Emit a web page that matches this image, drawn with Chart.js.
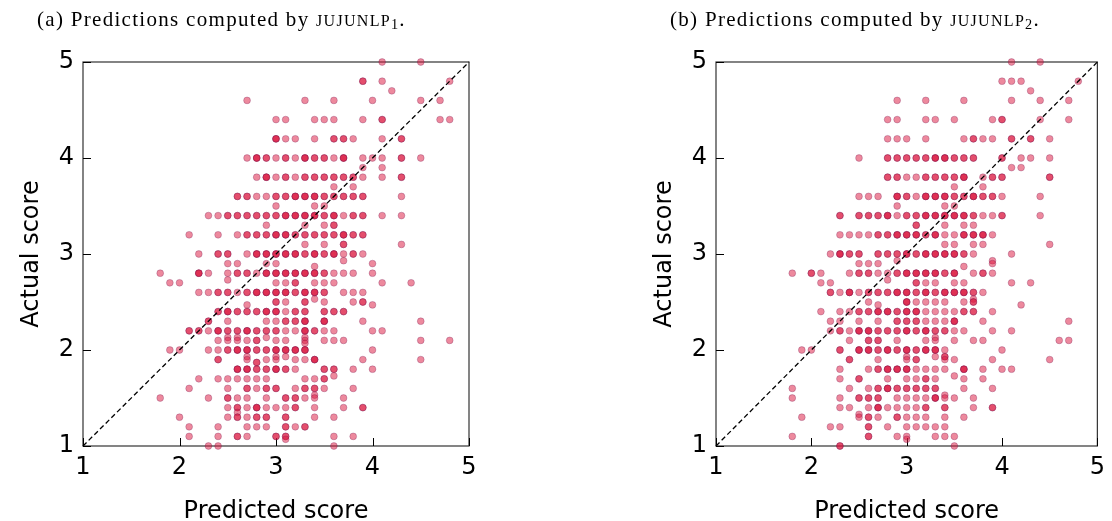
<!DOCTYPE html>
<html><head><meta charset="utf-8">
<script src="https://cdn.jsdelivr.net/npm/chart.js@4.4.1/dist/chart.umd.min.js"></script>
<style>
html,body{margin:0;padding:0;background:#fff;}
body{width:1112px;height:521px;position:relative;overflow:hidden;}
.panel{position:absolute;top:0;width:556px;height:521px;}
.title{position:absolute;top:6px;font-family:"Liberation Serif","DejaVu Serif",serif;font-size:21px;letter-spacing:1.3px;color:#000;white-space:nowrap;z-index:2;}
.sc{font-variant:small-caps;font-size:1.08em;}
sub{font-size:0.68em;vertical-align:-0.22em;line-height:0;}
</style></head>
<body>
<div class="title" style="left:37px">(a) Predictions computed by <span class="sc">jujunlp</span><sub>1</sub>.</div>
<div class="title" style="left:670px">(b) Predictions computed by <span class="sc">jujunlp</span><sub>2</sub>.</div>
<div class="panel" style="left:0"><canvas id="cA" width="556" height="521"></canvas></div>
<div class="panel" style="left:556px"><canvas id="cB" width="556" height="521"></canvas></div>
<script>
// axis ticks
const tickValues = [1, 2, 3, 4, 5];
const diagonal = [{x: 1, y: 1}, {x: 5, y: 5}];

// ---- (a) JUJUNLP1: actual score levels and predicted scores at each level (repeats = overlapping points)
const actualLevelsA = [5.0,4.8,4.7,4.6,4.4,4.2,4.0,3.9,3.8,3.7,3.6,3.5,3.4,3.3,3.2,3.1,3.0,2.93,2.9,2.87,2.8,2.73,2.7,2.6,2.53,2.5,2.47,2.4,2.3,2.2,2.13,2.1,2.07,2.0,1.93,1.9,1.87,1.8,1.73,1.7,1.6,1.53,1.5,1.4,1.35,1.3,1.2,1.1,1.07,1.0];
const predictedA = [
/*5.0*/[4.1,4.5],
/*4.8*/[3.9,3.9,4.1,4.8],
/*4.7*/[4.2],
/*4.6*/[2.7,3.3,3.6,4.0,4.5,4.7],
/*4.4*/[3.0,3.1,3.4,3.5,3.6,3.9,4.1,4.1,4.7,4.8],
/*4.2*/[3.0,3.0,3.0,3.1,3.2,3.4,3.6,3.6,3.7,3.7,3.8,4.1,4.3,4.3],
/*4.0*/[2.7,2.8,2.8,2.8,2.9,2.9,3.0,3.1,3.1,3.2,3.3,3.3,3.3,3.4,3.4,3.5,3.5,3.6,3.7,3.7,3.7,3.9,4.0,4.1,4.3,4.3,4.5],
/*3.9*/[3.9,4.1],
/*3.8*/[2.8,2.9,2.9,2.9,3.0,3.1,3.1,3.2,3.3,3.3,3.4,3.4,3.5,3.5,3.6,3.6,3.7,3.7,3.8,3.8,3.9,4.1,4.3,4.3],
/*3.7*/[3.6,3.8],
/*3.6*/[2.6,2.6,2.7,2.7,2.8,2.9,3.0,3.0,3.1,3.1,3.2,3.2,3.2,3.3,3.3,3.3,3.4,3.4,3.4,3.5,3.5,3.6,3.6,3.7,3.7,3.8,3.8,3.9,3.9,4.3],
/*3.5*/[3.0,3.4,3.5],
/*3.4*/[2.3,2.4,2.5,2.5,2.6,2.6,2.7,2.7,2.8,2.8,2.9,2.9,3.0,3.0,3.1,3.1,3.1,3.2,3.2,3.2,3.3,3.3,3.3,3.4,3.4,3.4,3.5,3.5,3.6,3.6,3.6,3.7,3.8,3.8,3.9,3.9,4.1,4.3],
/*3.3*/[2.9,3.3,3.5,3.6,3.6],
/*3.2*/[2.1,2.4,2.6,2.7,2.7,2.8,2.8,2.9,2.9,3.0,3.0,3.0,3.1,3.1,3.1,3.2,3.2,3.3,3.3,3.4,3.4,3.5,3.5,3.6,3.6,3.7,3.7,3.7,3.8,3.8,3.9,3.9],
/*3.1*/[3.3,3.5,3.7,3.7,4.3],
/*3.0*/[2.2,2.4,2.4,2.5,2.5,2.7,2.8,2.8,2.8,2.9,2.9,2.9,3.0,3.0,3.0,3.1,3.1,3.1,3.2,3.2,3.2,3.3,3.3,3.4,3.4,3.4,3.5,3.5,3.6,3.6,3.6,3.7,3.8,3.8,3.9],
/*2.93*/[3.7],
/*2.9*/[2.5,2.6,2.9,3.0,4.0],
/*2.87*/[3.4],
/*2.8*/[1.8,2.2,2.2,2.2,2.3,2.5,2.6,2.6,2.7,2.7,2.8,2.9,2.9,2.9,3.0,3.0,3.0,3.1,3.1,3.1,3.2,3.2,3.2,3.3,3.3,3.3,3.4,3.4,3.4,3.5,3.5,3.6,3.7,3.8,4.0],
/*2.73*/[2.5],
/*2.7*/[1.9,2.0,3.0,3.1,3.2,3.2,3.4,3.5,3.6,4.1,4.4],
/*2.6*/[2.2,2.3,2.4,2.4,2.5,2.5,2.6,2.7,2.7,2.8,2.8,2.8,2.9,2.9,2.9,3.0,3.0,3.0,3.1,3.1,3.1,3.2,3.2,3.3,3.3,3.3,3.4,3.4,3.4,3.5,3.5,3.7,3.8,3.9],
/*2.53*/[3.4],
/*2.5*/[3.0,3.0,3.1,3.3,3.3,3.5,3.8,3.9,3.9],
/*2.47*/[2.7,4.0],
/*2.4*/[2.4,2.4,2.5,2.5,2.5,2.6,2.6,2.7,2.7,2.8,2.8,2.9,2.9,2.9,3.0,3.0,3.0,3.1,3.2,3.2,3.3,3.3,3.5,3.5,3.6,3.6,3.7,3.7],
/*2.3*/[2.3,2.3,2.5,2.9,3.0,3.1,3.1,3.2,3.2,3.3,3.3,3.3,3.5,3.5,3.5,3.9,4.5],
/*2.2*/[2.1,2.1,2.2,2.2,2.3,2.4,2.4,2.4,2.5,2.5,2.6,2.6,2.7,2.7,2.7,2.8,2.8,2.9,2.9,3.0,3.0,3.1,3.2,3.3,3.3,3.3,3.4,3.4,3.5,3.6,4.0,4.1],
/*2.13*/[2.5,2.6,2.9,3.3],
/*2.1*/[2.4,2.5,2.6,2.7,2.8,2.8,3.0,3.1,3.3,3.5,3.6,3.7,4.5,4.8],
/*2.07*/[3.3],
/*2.0*/[1.9,2.0,2.3,2.4,2.5,2.5,2.6,2.6,2.6,2.7,2.7,2.7,2.8,2.8,2.9,2.9,3.0,3.0,3.0,3.1,3.1,3.1,3.2,3.2,3.2,3.3,3.3,3.3,4.0],
/*1.93*/[2.7,3.0,3.1],
/*1.9*/[2.4,2.4,2.7,2.9,3.0,3.2,3.3,3.4,3.4,3.4,3.9,4.5],
/*1.87*/[2.8,2.8],
/*1.8*/[2.6,2.6,2.6,2.7,2.7,2.7,2.8,2.8,2.9,2.9,3.0,3.0,3.0,3.1,3.1,3.2,3.5,3.5,3.6,3.6,3.8,4.0],
/*1.73*/[3.6],
/*1.7*/[2.2,2.4,2.5,2.6,2.7,2.8,2.9,3.3,3.4,3.5,3.5],
/*1.6*/[2.1,2.5,2.7,2.7,2.8,2.9,2.9,3.0,3.0,3.2,3.3,3.3,3.4,3.4,3.5,3.8],
/*1.53*/[3.4],
/*1.5*/[1.8,2.3,2.5,2.5,2.6,2.7,2.9,3.1,3.1,3.2,3.2,3.3,3.4,3.7],
/*1.4*/[2.5,2.6,2.6,2.7,2.8,2.8,2.8,2.9,3.0,3.1,3.2,3.2,3.4,3.7,3.9,3.9],
/*1.35*/[2.6],
/*1.3*/[2.0,2.5,2.6,2.6,2.7,2.8,2.8,2.9,2.9,3.1,3.1,3.4,3.6],
/*1.2*/[2.1,2.4,2.7,2.8,2.9,3.1,3.1,3.2,3.3,3.3],
/*1.1*/[2.1,2.4,2.6,2.6,2.7,3.0,3.0,3.1,3.1,3.6,3.8],
/*1.07*/[3.1],
/*1.0*/[2.3,2.4,3.6]
];

// ---- (b) JUJUNLP2
const actualLevelsB = [5.0,4.8,4.7,4.6,4.4,4.2,4.0,3.9,3.8,3.7,3.6,3.5,3.4,3.3,3.2,3.1,3.0,2.93,2.9,2.87,2.8,2.73,2.7,2.6,2.53,2.5,2.47,2.4,2.3,2.2,2.13,2.1,2.0,1.93,1.9,1.8,1.73,1.7,1.6,1.53,1.5,1.4,1.33,1.3,1.2,1.1,1.07,1.0];
const predictedB = [
/*5.0*/[4.1,4.4],
/*4.8*/[4.0,4.1,4.2,4.8],
/*4.7*/[4.3],
/*4.6*/[2.9,3.2,3.6,4.1,4.4,4.7],
/*4.4*/[2.8,2.9,3.2,3.3,3.5,3.9,4.0,4.0,4.4,4.7],
/*4.2*/[2.8,2.9,3.0,3.2,3.6,3.7,3.7,3.8,3.9,4.1,4.1,4.3,4.3,4.5],
/*4.0*/[2.5,2.8,2.8,2.9,2.9,3.0,3.0,3.1,3.1,3.2,3.2,3.3,3.3,3.3,3.4,3.4,3.4,3.5,3.5,3.6,3.6,3.7,3.7,4.0,4.0,4.2,4.3,4.5],
/*3.9*/[4.1,4.2],
/*3.8*/[2.8,2.8,2.9,2.9,3.0,3.1,3.2,3.2,3.3,3.3,3.4,3.4,3.5,3.5,3.6,3.6,3.6,3.8,3.9,3.9,4.0,4.0,4.5,4.5],
/*3.7*/[3.5,3.8],
/*3.6*/[2.5,2.6,2.7,2.9,2.9,2.9,3.0,3.0,3.1,3.2,3.2,3.2,3.3,3.3,3.3,3.4,3.4,3.4,3.5,3.5,3.6,3.6,3.7,3.7,3.7,3.8,3.8,3.9,3.9,4.0,4.4],
/*3.5*/[2.9,3.4,3.5],
/*3.4*/[2.3,2.3,2.5,2.5,2.6,2.6,2.7,2.7,2.8,2.8,2.8,2.9,3.0,3.0,3.1,3.1,3.2,3.2,3.2,3.3,3.3,3.3,3.4,3.4,3.4,3.5,3.5,3.5,3.6,3.6,3.6,3.7,3.7,3.8,3.9,4.0,4.0,4.4],
/*3.3*/[3.1,3.1,3.4,3.6,3.7],
/*3.2*/[2.3,2.4,2.5,2.6,2.7,2.7,2.8,2.8,2.9,2.9,2.9,3.0,3.0,3.0,3.1,3.1,3.1,3.2,3.2,3.3,3.3,3.3,3.4,3.5,3.6,3.6,3.6,3.7,3.7,3.7,3.8,3.8,3.8,3.9],
/*3.1*/[3.4,3.5,3.7,3.8,4.5],
/*3.0*/[2.2,2.3,2.3,2.3,2.4,2.4,2.5,2.5,2.7,2.7,2.8,2.8,2.9,2.9,3.0,3.0,3.0,3.1,3.1,3.2,3.2,3.2,3.3,3.3,3.3,3.4,3.4,3.4,3.5,3.5,3.5,3.6,3.6,3.7,4.1],
/*2.93*/[2.9,3.9],
/*2.9*/[2.5,2.6,2.7,3.9],
/*2.87*/[3.6],
/*2.8*/[1.8,2.0,2.0,2.1,2.4,2.5,2.5,2.6,2.6,2.7,2.8,2.9,2.9,3.0,3.0,3.0,3.1,3.1,3.1,3.2,3.2,3.2,3.3,3.3,3.3,3.4,3.4,3.5,3.5,3.5,3.7,3.8,3.8,3.9],
/*2.73*/[2.8],
/*2.7*/[2.1,2.2,3.1,3.1,3.2,3.3,3.5,3.6,4.1,4.3],
/*2.6*/[2.2,2.2,2.3,2.4,2.4,2.4,2.5,2.6,2.6,2.7,2.7,2.8,2.8,2.9,2.9,2.9,3.0,3.0,3.0,3.1,3.1,3.2,3.2,3.2,3.3,3.3,3.4,3.4,3.4,3.5,3.5,3.5,3.6,3.6,3.6,3.7,3.7,3.8],
/*2.53*/[3.7],
/*2.5*/[2.6,3.0,3.0,3.0,3.1,3.2,3.3,3.4,3.6,3.7,3.7],
/*2.47*/[2.7,4.2],
/*2.4*/[2.1,2.3,2.4,2.5,2.5,2.6,2.6,2.7,2.7,2.7,2.8,2.8,2.8,2.9,2.9,3.0,3.0,3.0,3.1,3.1,3.1,3.2,3.3,3.4,3.5,3.6,3.6,3.7,3.7,3.9],
/*2.3*/[2.2,2.3,2.5,2.7,2.9,2.9,3.0,3.0,3.1,3.1,3.2,3.3,3.4,3.5,3.5,3.5,3.8,4.7],
/*2.2*/[2.2,2.3,2.3,2.4,2.5,2.5,2.5,2.6,2.6,2.6,2.7,2.7,2.8,2.8,2.9,2.9,3.0,3.0,3.0,3.1,3.1,3.2,3.2,3.2,3.3,3.3,3.4,3.4,3.5,3.6,3.9,4.1],
/*2.13*/[3.3],
/*2.1*/[2.4,2.6,2.6,2.7,2.7,2.9,3.2,3.3,3.5,3.7,3.8,4.6,4.7],
/*2.0*/[1.9,2.0,2.3,2.3,2.5,2.5,2.5,2.6,2.6,2.6,2.7,2.7,2.8,2.8,2.8,2.9,2.9,3.0,3.0,3.0,3.1,3.1,3.2,3.2,3.2,3.3,3.3,3.3,3.4,4.0],
/*1.93*/[3.0,3.3,3.4,3.4],
/*1.9*/[2.4,2.4,2.7,3.0,3.1,3.1,3.4,3.5,3.9,4.5],
/*1.8*/[2.3,2.6,2.7,2.7,2.8,2.8,2.8,2.9,2.9,2.9,3.0,3.0,3.0,3.1,3.2,3.3,3.4,3.6,3.6,3.6,3.8,4.0,4.1],
/*1.73*/[3.5],
/*1.7*/[2.3,2.5,2.5,2.8,3.0,3.1,3.2,3.2,3.3,3.6,3.8],
/*1.6*/[1.8,2.4,2.6,2.7,2.7,2.8,2.8,2.8,2.9,2.9,3.0,3.0,3.1,3.1,3.2,3.2,3.3,3.3,3.6,3.9],
/*1.53*/[3.4],
/*1.5*/[1.8,2.3,2.5,2.5,2.6,2.6,2.7,2.7,2.9,3.0,3.1,3.2,3.3,3.3,3.3,3.4,3.5,3.7],
/*1.4*/[2.3,2.4,2.6,2.7,2.7,2.7,2.8,2.9,3.0,3.1,3.2,3.2,3.4,3.4,3.7,3.9,3.9],
/*1.33*/[2.5],
/*1.3*/[1.9,2.5,2.6,2.6,2.7,2.9,2.9,3.0,3.1,3.2,3.4,3.6],
/*1.2*/[2.2,2.3,2.6,2.6,2.8,3.0,3.1,3.2,3.3,3.4],
/*1.1*/[1.8,2.6,2.6,2.9,3.0,3.3,3.4,3.5],
/*1.07*/[3.0],
/*1.0*/[2.3,2.3,3.5]
];

function toPoints(levels, preds) {
  const pts = [];
  levels.forEach((y, i) => (preds[i] || []).forEach(x => pts.push({x: x, y: y})));
  return pts;
}

const framePlugin = {
  id: 'frame',
  beforeDatasetsDraw(chart) {
    const {ctx, chartArea: a, scales: {x, y}} = chart;
    ctx.save();
    ctx.strokeStyle = '#333';
    ctx.lineWidth = 1.2;
    ctx.strokeRect(a.left, a.top, a.right - a.left, a.bottom - a.top);
    ctx.beginPath();
    ctx.strokeStyle = '#000';
    ctx.lineWidth = 1;
    x.ticks.forEach(t => { const px = Math.round(x.getPixelForValue(t.value)) + 0.5; ctx.moveTo(px, a.bottom); ctx.lineTo(px, a.bottom - 8); });
    y.ticks.forEach(t => { const py = Math.round(y.getPixelForValue(t.value)) + 0.5; ctx.moveTo(a.left, py); ctx.lineTo(a.left + 8, py); });
    ctx.stroke();
    ctx.restore();
  }
};

function makeChart(id, levels, preds, padLeft, padRight) {
  const font = {family: 'DejaVu Sans', size: 24};
  new Chart(document.getElementById(id), {
    type: 'scatter',
    data: {
      datasets: [
        {data: diagonal, showLine: true, borderColor: '#000', borderWidth: 1.3, borderDash: [5, 3],
         pointRadius: 0, fill: false, clip: false},
        {data: toPoints(levels, preds), pointRadius: 3.4, pointHoverRadius: 3.4,
         backgroundColor: 'rgba(220,20,60,0.5)', borderColor: 'rgba(110,20,80,0.35)', borderWidth: 0.8, clip: false}
      ]
    },
    options: {
      responsive: false, animation: false, devicePixelRatio: 1,
      layout: {padding: {left: padLeft, right: padRight, top: 62, bottom: 0}},
      plugins: {legend: {display: false}, tooltip: {enabled: false}},
      scales: {
        x: {
          type: 'linear', min: 1, max: 5,
          afterBuildTicks: s => { s.ticks = tickValues.map(v => ({value: v})); },
          ticks: {font: font, color: '#000', padding: 7, maxRotation: 0},
          grid: {display: false, drawTicks: false, tickLength: 0},
          border: {display: false},
          title: {display: true, text: 'Predicted score', color: '#000',
                  font: {family: 'DejaVu Sans', size: 24, lineHeight: 0.8}, padding: {top: 0, bottom: 0}},
          afterFit: s => { s.height = 75; }
        },
        y: {
          type: 'linear', min: 1, max: 5,
          afterBuildTicks: s => { s.ticks = tickValues.map(v => ({value: v})); },
          ticks: {font: font, color: '#000', padding: 9},
          grid: {display: false, drawTicks: false, tickLength: 0},
          border: {display: false},
          title: {display: true, text: 'Actual score', color: '#000',
                  font: {family: 'DejaVu Sans', size: 24, lineHeight: 1}, padding: {top: 20, bottom: 0}},
          afterFit: s => { s.width = 83; }
        }
      }
    },
    plugins: [framePlugin]
  });
}

makeChart('cA', actualLevelsA, predictedA, 0, 87);
makeChart('cB', actualLevelsB, predictedB, 77, 10);
</script>
</body></html>
